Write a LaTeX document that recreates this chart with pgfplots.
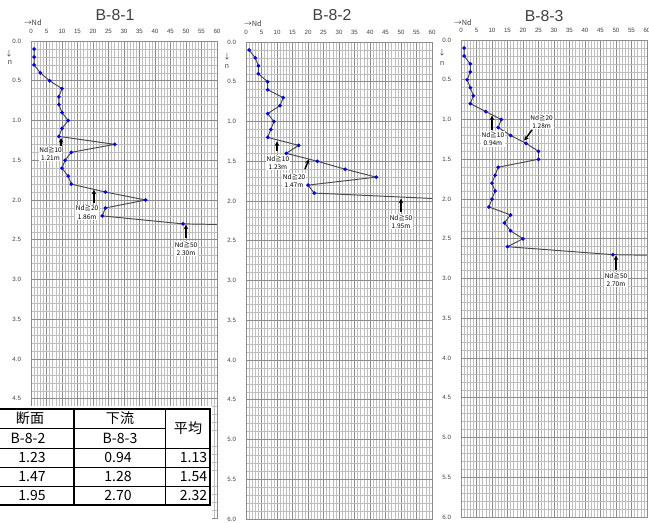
\documentclass[border=0pt]{standalone}
\usepackage{fontspec}
\setmainfont{Liberation Sans}
\newfontfamily\cjk{Noto Sans CJK JP}
\usepackage{pgfplots}
\usepackage{pgfplotstable}
\pgfplotsset{compat=1.18}
\usetikzlibrary{arrows.meta}

\definecolor{gridmaj}{HTML}{8C8C8C}
\definecolor{gridmin}{HTML}{BEBEBE}
\definecolor{txt}{HTML}{404040}
\definecolor{ln}{HTML}{4A4A4A}

\pgfplotstableread{
d nd
0.1 1
0.2 1
0.3 1
0.4 3
0.5 6
0.6 10
0.7 9
0.8 9
0.9 10
1.0 12
1.1 10
1.2 9
1.3 27
1.4 13
1.5 11
1.6 10
1.7 12
1.8 13
1.9 24
2.0 37
2.1 24
2.2 23
2.3 49
}\dataA
\pgfplotstableread{
d nd
2.3 49
2.4 200
}\extA
\pgfplotstableread{
d nd
0.1 1
0.2 3
0.3 4
0.4 4
0.5 7
0.6 7
0.7 12
0.8 11
0.9 7
1.0 9
1.1 8
1.2 7
1.3 17
1.4 13
1.5 23
1.6 32
1.7 42
1.8 20
1.9 22
}\dataB
\pgfplotstableread{
d nd
1.9 22
2.0 78
}\extB
\pgfplotstableread{
d nd
0.1 1
0.2 1
0.3 3
0.4 3
0.5 2
0.6 3
0.7 4
0.8 3
0.9 8
1.0 13
1.1 12
1.2 16
1.3 21
1.4 25
1.5 25
1.6 12
1.7 11
1.8 10
1.9 11
2.0 10
2.1 9
2.2 16
2.3 14
2.4 16
2.5 20
2.6 15
2.7 49
}\dataC
\pgfplotstableread{
d nd
2.7 49
2.8 200
}\extC

\tikzset{
 ann/.style={fill=white, inner sep=0.4pt, align=center, text=black, font=\cjk\fontsize{3.7}{4.6}\selectfont},
 arr/.style={-{Stealth[length=2.6pt,width=2.6pt]}, line width=0.8pt, black},
}
\pgfplotsset{
 ndaxis/.style={
  scale only axis, width=3.72cm, height=9.54cm,
  anchor=north west,
  xmin=0,xmax=60,ymin=0,ymax=6,
  y dir=reverse,
  xticklabel pos=upper,
  xtick={0,5,...,60},
  ytick={0,0.5,...,6},
  minor xtick={0,1,...,60},
  minor ytick={0.1,0.2,0.3,0.4,0.6,0.7,0.8,0.9,1.1,1.2,1.3,1.4,1.6,1.7,1.8,1.9,2.1,2.2,2.3,2.4,2.6,2.7,2.8,2.9,3.1,3.2,3.3,3.4,3.6,3.7,3.8,3.9,4.1,4.2,4.3,4.4,4.6,4.7,4.8,4.9,5.1,5.2,5.3,5.4,5.6,5.7,5.8,5.9},
  grid=both,
  major grid style={gridmaj, line width=0.3pt},
  minor grid style={gridmin, line width=0.25pt},
  axis line style={gridmaj, line width=0.3pt},
  major tick length=0pt, minor tick length=0pt,
  tick label style={font=\fontsize{3.5}{4}\selectfont, text=txt},
  /pgf/number format/assume math mode=true,
  yticklabel={\pgfmathprintnumber[fixed,fixed zerofill,precision=1,assume math mode=true]{\tick}},
  xticklabel style={yshift=0.6pt},
  yticklabel style={xshift=-2.2pt},
  clip=true,
 },
 ser/.style={ln, line width=0.55pt, mark=*, mark size=0.75pt, mark options={blue, draw=blue, fill=blue}},
 ext/.style={ln, line width=0.55pt, no marks},
}

\begin{document}
\begin{tikzpicture}
\useasboundingbox (0,0) rectangle (12.98cm,-10.44cm);

% ---------- B-8-1 ----------
\begin{axis}[ndaxis, at={(0.62cm,-0.82cm)}, ytick={0,0.5,...,4.5}]
\addplot[ser] table[x=nd,y=d] {\dataA};
\addplot[ext] table[x=nd,y=d] {\extA};
\draw[arr] (axis cs:9.7,1.33) -- (axis cs:9.7,1.22);
\node[ann] at (axis cs:6.3,1.42) {Nd≧10\\1.21m};
\draw[arr] (axis cs:20.3,2.04) -- (axis cs:20.3,1.87);
\node[ann] at (axis cs:18.1,2.155) {Nd≧20\\1.86m};
\draw[arr] (axis cs:50,2.48) -- (axis cs:50,2.31);
\node[ann] at (axis cs:50,2.61) {Nd≧50\\2.30m};
\end{axis}

% ---------- B-8-2 ----------
\begin{axis}[ndaxis, at={(4.92cm,-0.84cm)}]
\addplot[ser] table[x=nd,y=d] {\dataB};
\addplot[ext] table[x=nd,y=d] {\extB};
\draw[arr] (axis cs:10,1.37) -- (axis cs:10,1.25);
\node[ann] at (axis cs:10.3,1.52) {Nd≧10\\1.23m};
\draw[arr] (axis cs:19.0,1.60) -- (axis cs:20.3,1.475);
\node[ann] at (axis cs:15.5,1.745) {Nd≧20\\1.47m};
\draw[arr] (axis cs:50,2.14) -- (axis cs:50,1.97);
\node[ann] at (axis cs:50,2.26) {Nd≧50\\1.95m};
\end{axis}

% ---------- B-8-3 ----------
\begin{axis}[ndaxis, at={(9.22cm,-0.80cm)}]
\addplot[ser] table[x=nd,y=d] {\dataC};
\addplot[ext] table[x=nd,y=d] {\extC};
\draw[arr] (axis cs:10,1.13) -- (axis cs:10,0.95);
\node[ann] at (axis cs:10.3,1.245) {Nd≧10\\0.94m};
\draw[arr] (axis cs:22.9,1.13) -- (axis cs:20.4,1.265);
\node[ann] at (axis cs:26,1.03) {Nd≧20\\1.28m};
\draw[arr] (axis cs:50,2.89) -- (axis cs:50,2.71);
\node[ann] at (axis cs:50,3.015) {Nd≧50\\2.70m};
\end{axis}

% ---------- titles and axis captions (pixel coordinates) ----------
\begin{scope}[x=0.02cm,y=-0.02cm]
\node[text=txt, font=\fontsize{9}{10}\selectfont] at (115,15) {B-8-1};
\node[text=txt, font=\fontsize{9}{10}\selectfont] at (332,15) {B-8-2};
\node[text=txt, font=\fontsize{9}{10}\selectfont] at (544,16) {B-8-3};
\foreach \xa/\ya/\xb/\yb/\xc/\yc in {33/23/9/54/10/62, 253/24/227/57/227/66, 463/23/442/53/442/63}{
  \node[text=txt, font=\cjk\fontsize{4.2}{5}\selectfont] at (\xa,\ya) {→Nd};
  \node[text=txt, font=\cjk\fontsize{4.2}{5}\selectfont] at (\xb,\yb) {↓};
  \node[text=txt, font=\fontsize{4.2}{5}\selectfont] at (\xc,\yc) {n};
}

% ---------- table ----------
\fill[white] (-20,406) rectangle (211.5,522);
\draw[line width=0.5pt] (-17,428) -- (165,428);
\draw[line width=0.6pt] (-17,448) -- (210,448);
\draw[line width=0.5pt] (-17,467) -- (210,467);
\draw[line width=0.5pt] (-17,486) -- (210,486);
\draw[line width=0.6pt] (74,409) -- (74,505);
\draw[line width=0.6pt] (165,409) -- (165,505);
\draw[line width=0.8pt] (-17,409) rectangle (210,505);
\begin{scope}[every node/.style={font=\cjk\fontsize{8}{9}\selectfont, inner sep=0pt}]
\node at (30,418.5) {断面};
\node at (28,438) {B-8-2};
\node at (120,418.5) {下流};
\node at (120,438) {B-8-3};
\node at (188,428) {平均};
\node at (32,457.5) {1.23};
\node at (32,476.5) {1.47};
\node at (32,495.5) {1.95};
\node at (118,457.5) {0.94};
\node at (118,476.5) {1.28};
\node at (118,495.5) {2.70};
\node[anchor=east] at (207.5,457.5) {1.13};
\node[anchor=east] at (207.5,476.5) {1.54};
\node[anchor=east] at (207.5,495.5) {2.32};
\end{scope}
\end{scope}
\end{tikzpicture}
\end{document}
